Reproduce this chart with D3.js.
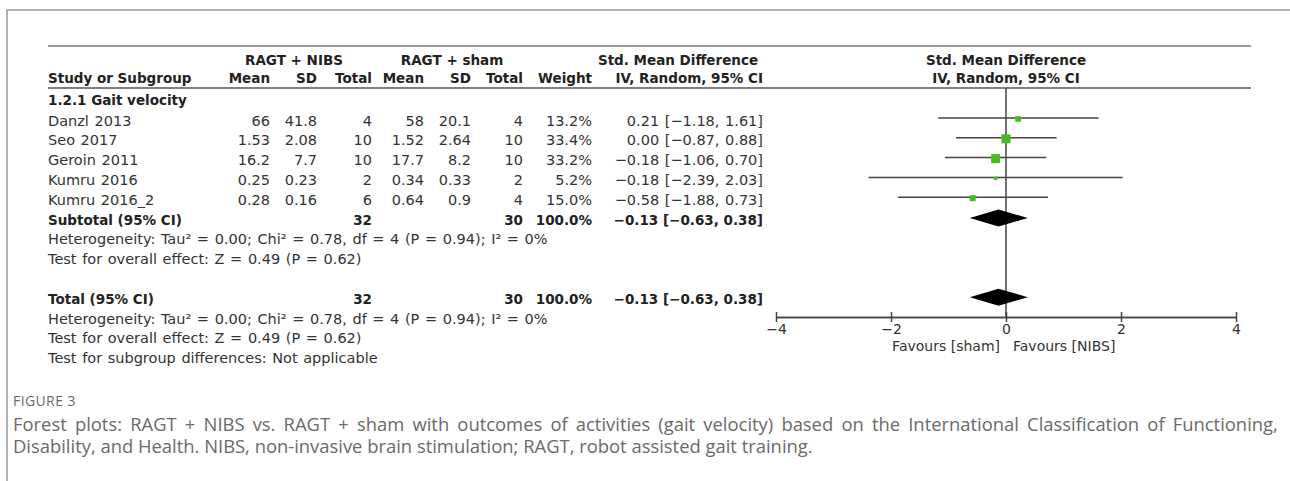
<!DOCTYPE html>
<html>
<head>
<meta charset="utf-8">
<script src="https://cdn.jsdelivr.net/npm/d3@7"></script>
<style>
  body { margin: 0; background: #fff; }
  text { font-family: "DejaVu Sans", sans-serif; }
  .tbl { font-size: 14.5px; fill: #333; word-spacing: 1px; }
  .bold { font-size: 13.5px; font-weight: bold; fill: #222; word-spacing: 0; }
  .fav { font-size: 14px; word-spacing: 0; }
  .caption { font-family: "Open Sans", "Lato", sans-serif; fill: #6a6a6a; }
</style>
</head>
<body>
<div id="chart"></div>
<script>
// study data
var studies = ["Danzl 2013", "Seo 2017", "Geroin 2011", "Kumru 2016", "Kumru 2016_2"];
var nibsMean = ["66", "1.53", "16.2", "0.25", "0.28"];
var nibsSD = ["41.8", "2.08", "7.7", "0.23", "0.16"];
var nibsN = [4, 10, 10, 2, 6];
var shamMean = ["58", "1.52", "17.7", "0.34", "0.64"];
var shamSD = ["20.1", "2.64", "8.2", "0.33", "0.9"];
var shamN = [4, 10, 10, 2, 4];
var weights = [13.2, 33.4, 33.2, 5.2, 15.0];
var smd = [0.21, 0.00, -0.18, -0.18, -0.58];
var ciLow = [-1.18, -0.87, -1.06, -2.39, -1.88];
var ciHigh = [1.61, 0.88, 0.70, 2.03, 0.73];

// pooled estimate
var pooled = { est: -0.13, low: -0.63, high: 0.38, n1: 32, n2: 30 };
var xTicks = [-4, -2, 0, 2, 4];

var svgWidth = 1290;
var svgHeight = 481;

var svg = d3.select("#chart")
  .append("svg")
  .attr("width", svgWidth)
  .attr("height", svgHeight);

var minus = function(v, d) { return (v < 0 ? "\u2212" : "") + Math.abs(v).toFixed(d); };
var ciText = function(e, l, h) { return minus(e, 2) + " [" + minus(l, 2) + ", " + minus(h, 2) + "]"; };

// row scale: index -> y centre
var yRow = d3.scaleLinear().domain([0, 1]).range([118, 137.8]);
var xScale = d3.scaleLinear().domain([-4, 4]).range([776, 1236]);
var sqSize = d3.scaleSqrt().domain([0, 33.4]).range([0, 9]);

// frame
svg.append("path")
  .attr("d", "M7,481 V10 H1290")
  .attr("fill", "none")
  .attr("stroke", "#999")
  .attr("stroke-width", 1.5);

// header lines
svg.append("line").attr("x1", 48).attr("x2", 1251).attr("y1", 46).attr("y2", 46)
  .attr("stroke", "#999").attr("stroke-width", 2);
svg.append("line").attr("x1", 48).attr("x2", 1251).attr("y1", 88).attr("y2", 88)
  .attr("stroke", "#555").attr("stroke-width", 1.6);

// column right edges
var cols = { m1: 270, s1: 317, n1: 372, m2: 424, s2: 471, n2: 523, w: 592, ci: 763 };

function txt(x, y, s, anchor, cls) {
  return svg.append("text")
    .attr("x", x).attr("y", y)
    .attr("text-anchor", anchor || "start")
    .attr("class", "tbl " + (cls || ""))
    .text(s);
}

// headers
txt(294, 65, "RAGT + NIBS", "middle", "bold");
txt(452, 65, "RAGT + sham", "middle", "bold");
txt(678, 65, "Std. Mean Difference", "middle", "bold");
txt(1006, 65, "Std. Mean Difference", "middle", "bold");
txt(48, 83, "Study or Subgroup", "start", "bold");
txt(cols.m1, 83, "Mean", "end", "bold");
txt(cols.s1, 83, "SD", "end", "bold");
txt(cols.n1, 83, "Total", "end", "bold");
txt(cols.m2, 83, "Mean", "end", "bold");
txt(cols.s2, 83, "SD", "end", "bold");
txt(cols.n2, 83, "Total", "end", "bold");
txt(cols.w, 83, "Weight", "end", "bold");
txt(cols.ci, 83, "IV, Random, 95% CI", "end", "bold");
txt(1006, 83, "IV, Random, 95% CI", "middle", "bold");

txt(48, yRow(-1) + 7, "1.2.1 Gait velocity", "start", "bold");

var base = function(i) { return yRow(i) + 7.5; };

studies.forEach(function(s, i) {
  var y = base(i);
  txt(48, y, s);
  txt(cols.m1, y, nibsMean[i], "end");
  txt(cols.s1, y, nibsSD[i], "end");
  txt(cols.n1, y, nibsN[i], "end");
  txt(cols.m2, y, shamMean[i], "end");
  txt(cols.s2, y, shamSD[i], "end");
  txt(cols.n2, y, shamN[i], "end");
  txt(cols.w, y, weights[i].toFixed(1) + "%", "end");
  txt(cols.ci, y, ciText(smd[i], ciLow[i], ciHigh[i]), "end");
});

var hetText = "Heterogeneity: Tau\u00B2 = 0.00; Chi\u00B2 = 0.78, df = 4 (P = 0.94); I\u00B2 = 0%";
var effText = "Test for overall effect: Z = 0.49 (P = 0.62)";

[[5, "Subtotal (95% CI)"], [9, "Total (95% CI)"]].forEach(function(r) {
  var y = base(r[0]);
  txt(48, y, r[1], "start", "bold");
  txt(cols.n1, y, pooled.n1, "end", "bold");
  txt(cols.n2, y, pooled.n2, "end", "bold");
  txt(cols.w, y, "100.0%", "end", "bold");
  txt(cols.ci, y, ciText(pooled.est, pooled.low, pooled.high), "end", "bold");
});
txt(48, base(6), hetText);
txt(48, base(7), effText);
txt(48, base(10), hetText);
txt(48, base(11), effText);
txt(48, base(12), "Test for subgroup differences: Not applicable");

// forest plot
var plot = svg.append("g");
var axisY = yRow(10) + 1;

plot.append("line")
  .attr("x1", xScale(0)).attr("x2", xScale(0))
  .attr("y1", 88).attr("y2", axisY)
  .attr("stroke", "#444").attr("stroke-width", 1.5);

plot.selectAll("line.ci")
  .data(studies)
  .enter()
  .append("line")
  .attr("class", "ci")
  .attr("x1", (d, i) => xScale(ciLow[i]))
  .attr("x2", (d, i) => xScale(ciHigh[i]))
  .attr("y1", (d, i) => yRow(i))
  .attr("y2", (d, i) => yRow(i))
  .attr("stroke", "#444")
  .attr("stroke-width", 1.5);

plot.selectAll("rect.sq")
  .data(studies)
  .enter()
  .append("rect")
  .attr("class", "sq")
  .attr("x", (d, i) => xScale(smd[i]) - sqSize(weights[i]) / 2)
  .attr("y", (d, i) => yRow(i) - sqSize(weights[i]) / 2 + 1)
  .attr("width", (d, i) => sqSize(weights[i]))
  .attr("height", (d, i) => sqSize(weights[i]))
  .attr("fill", "#45bd1f");

plot.selectAll("path.diamond")
  .data([5, 9])
  .enter()
  .append("path")
  .attr("class", "diamond")
  .attr("d", function(r) {
    var y = yRow(r) + 1;
    return "M" + xScale(pooled.low) + "," + y +
      "L" + xScale(pooled.est) + "," + (y - 8.5) +
      "L" + xScale(pooled.high) + "," + y +
      "L" + xScale(pooled.est) + "," + (y + 8.5) + "Z";
  })
  .attr("fill", "#000");

// axis with ticks crossing the line
var axisB = d3.axisBottom(xScale).tickValues(xTicks).tickSizeInner(5).tickSizeOuter(0)
  .tickPadding(2).tickFormat(d => minus(d, 0));
var gB = plot.append("g").attr("transform", "translate(0," + axisY + ")").call(axisB);
var axisT = d3.axisTop(xScale).tickValues(xTicks).tickSizeInner(5).tickSizeOuter(0).tickFormat("");
var gT = plot.append("g").attr("transform", "translate(0," + axisY + ")").call(axisT);
[gB, gT].forEach(function(g) {
  g.select(".domain").attr("stroke", "#444").attr("stroke-width", 1.5);
  g.selectAll(".tick line").attr("stroke", "#444").attr("stroke-width", 1.5);
});
gB.selectAll(".tick text")
  .attr("font-family", "DejaVu Sans, sans-serif")
  .attr("font-size", 14)
  .attr("fill", "#333");

txt(xScale(0) - 6, axisY + 34, "Favours [sham]", "end", "fav");
txt(xScale(0) + 7, axisY + 34, "Favours [NIBS]", "start", "fav");

// caption (first line justified like the journal layout)
svg.append("text")
  .attr("x", 13).attr("y", 406)
  .attr("class", "caption")
  .attr("font-size", 14)
  .attr("letter-spacing", 0.4)
  .attr("fill", "#6a6a6a")
  .text("FIGURE 3");
svg.append("text")
  .attr("x", 13).attr("y", 431)
  .attr("class", "caption")
  .attr("font-size", 18.4)
  .attr("word-spacing", 3.4)
  .text("Forest plots: RAGT + NIBS vs. RAGT + sham with outcomes of activities (gait velocity) based on the International Classification of Functioning,");
svg.append("text")
  .attr("x", 13).attr("y", 453)
  .attr("class", "caption")
  .attr("font-size", 18.4)
  .text("Disability, and Health. NIBS, non-invasive brain stimulation; RAGT, robot assisted gait training.");
</script>
</body>
</html>
